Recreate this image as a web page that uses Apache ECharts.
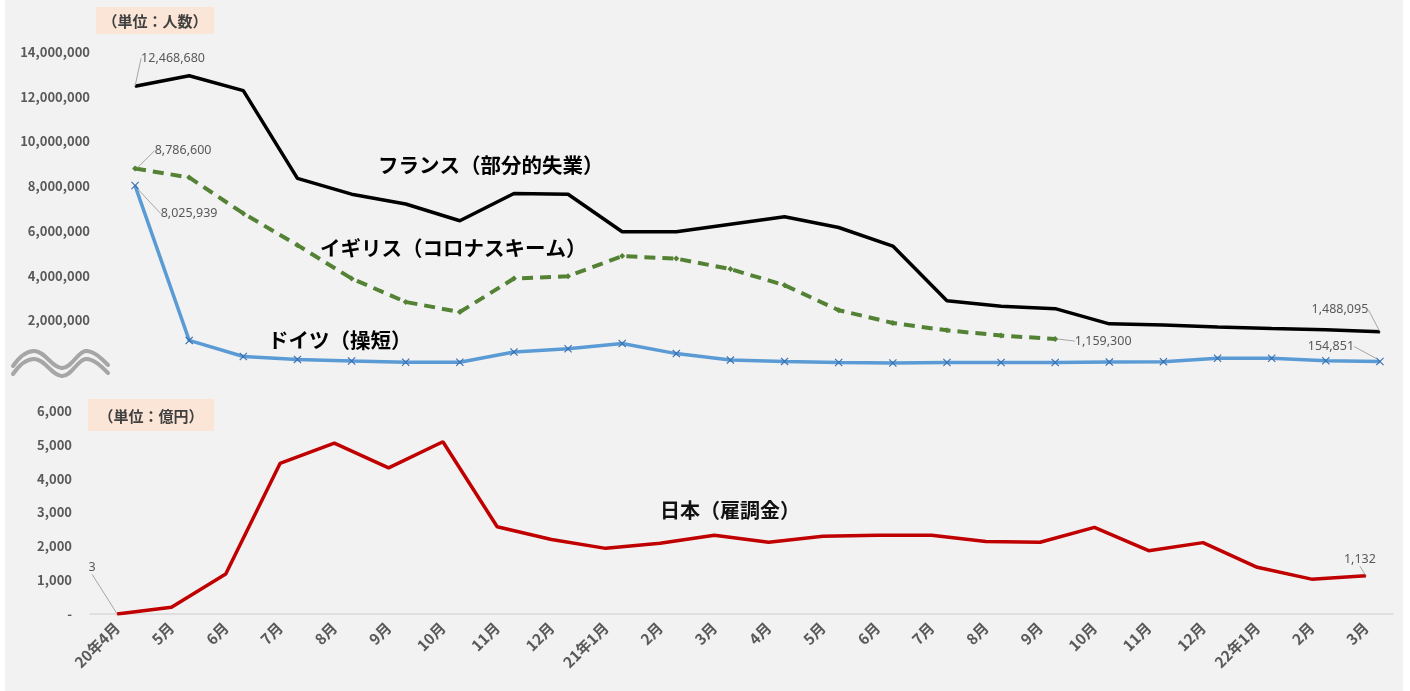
<!DOCTYPE html>
<html>
<head>
<meta charset="utf-8">
<script src="https://cdn.jsdelivr.net/npm/echarts@6/dist/echarts.min.js"></script>
<style>
  html, body { margin: 0; padding: 0; background: #fff; }
  #myChart { width: 1410px; height: 691px; }
</style>
</head>
<body>
<div id="myChart"></div>
<script>
// 月（20年4月〜22年3月）
const months = ["20年4月", "5月", "6月", "7月", "8月", "9月", "10月", "11月", "12月",
  "21年1月", "2月", "3月", "4月", "5月", "6月", "7月", "8月", "9月", "10月", "11月", "12月",
  "22年1月", "2月", "3月"];

// 上段（単位：人数）
const france = [12468680, 12940000, 12270000, 8350000, 7640000, 7200000, 6450000, 7670000,
  7640000, 5960000, 5960000, 6300000, 6630000, 6150000, 5320000, 2870000, 2630000, 2520000,
  1840000, 1790000, 1700000, 1630000, 1580000, 1488095];
const uk = [8786600, 8390000, 6780000, 5360000, 3870000, 2820000, 2370000, 3870000, 3970000,
  4870000, 4760000, 4290000, 3570000, 2450000, 1880000, 1550000, 1320000, 1159300,
  null, null, null, null, null, null];
const germany = [8025939, 1100000, 380000, 250000, 180000, 120000, 120000, 580000, 730000,
  960000, 510000, 220000, 160000, 110000, 90000, 110000, 110000, 110000, 130000, 150000,
  300000, 300000, 190000, 154851];

// 下段（単位：億円）
const japan = [3, 200, 1180, 4450, 5050, 4320, 5090, 2580, 2200, 1940, 2090, 2330, 2120,
  2300, 2330, 2330, 2140, 2120, 2560, 1870, 2110, 1380, 1030, 1132];

// 目盛
const peopleTicks = { min: 0, max: 14000000, interval: 2000000 };
const yenTicks = { min: 0, max: 6000, interval: 1000 };

const FONT = '"Noto Sans CJK JP", "Noto Sans", sans-serif';
const NUMFONT = '"Noto Sans", sans-serif';
const GRAY = "#595959";

// 値ラベルを付けるデータ（系列名 -> {index: [dx, dy]}）
const labelMove = {
  "フランス": { 0: [38, -28], 23: [-40, -22] },
  "イギリス": { 0: [48, -18], 17: [48, 2] },
  "ドイツ": { 0: [54, 28], 23: [-49, -15] },
  "日本": { 0: [-25, -46], 23: [-6, -16] }
};

function withLabels(name, arr) {
  return arr.map((v, i) => {
    if (labelMove[name][i] === undefined) return v;
    return { value: v, label: { show: true } };
  });
}

function fmt(v) {
  return v === 0 ? "-" : Number(v).toLocaleString("en-US");
}

const xCross = "path://M0,1L1,0L5,4L9,0L10,1L6,5L10,9L9,10L5,6L1,10L0,9L4,5Z";

function lineSeries(name, arr, opt) {
  return Object.assign({
    name: name,
    type: "line",
    data: withLabels(name, arr),
    symbol: "circle",
    symbolSize: 1,
    connectNulls: false,
    label: {
      show: false,
      position: "inside",
      color: GRAY,
      fontSize: 12.5,
      fontFamily: NUMFONT,
      formatter: p => fmt(p.value)
    },
    labelLine: {
      show: true,
      lineStyle: { color: "#a6a6a6", width: 1 }
    },
    labelLayout: function (params) {
      const m = labelMove[name][params.dataIndex];
      if (!m) return {};
      return { dx: m[0], dy: m[1] };
    },
    animation: false
  }, opt);
}

// 波線（省略記号）を3次ベジェで
function wave(dy) {
  const segs = [
    [13, 366, 20, 356, 27, 351, 34, 351],
    [34, 351, 45, 351, 52, 368, 62, 368],
    [62, 368, 72, 368, 78, 351, 86, 351],
    [86, 351, 94, 351, 101, 358, 108, 365]
  ];
  return segs.map(s => ({
    type: "bezierCurve",
    silent: true,
    shape: { x1: s[0], y1: s[1] + dy, cpx1: s[2], cpy1: s[3] + dy, cpx2: s[4], cpy2: s[5] + dy, x2: s[6], y2: s[7] + dy },
    style: { stroke: "#a6a6a6", lineWidth: 4, fill: null, lineCap: "round" }
  }));
}

let myChart = echarts.init(document.getElementById("myChart"));

const yAxisBase = {
  type: "value",
  axisLine: { show: false },
  axisTick: { show: false },
  splitLine: { show: false },
  axisLabel: {
    color: GRAY,
    fontWeight: "bold",
    fontSize: 13,
    fontFamily: FONT,
    margin: 18
  }
};

const option = {
  backgroundColor: "#ffffff",
  grid: [
    { left: 108, right: 3, top: 52, height: 313 },
    { left: 90, right: 17, top: 411, height: 203 }
  ],
  xAxis: [
    {
      type: "category",
      gridIndex: 0,
      data: months,
      boundaryGap: true,
      show: false
    },
    {
      type: "category",
      gridIndex: 1,
      data: months,
      boundaryGap: true,
      axisLine: { lineStyle: { color: "#d9d9d9", width: 1.5 } },
      axisTick: { show: false },
      axisLabel: {
        interval: 0,
        rotate: 45,
        margin: 11,
        color: GRAY,
        fontWeight: "bold",
        fontSize: 15,
        fontFamily: FONT
      }
    }
  ],
  yAxis: [
    Object.assign({}, yAxisBase, {
      gridIndex: 0,
      min: peopleTicks.min,
      max: peopleTicks.max,
      interval: peopleTicks.interval,
      axisLabel: Object.assign({}, yAxisBase.axisLabel, {
        formatter: v => (v === 0 ? "" : fmt(v))
      })
    }),
    Object.assign({}, yAxisBase, {
      gridIndex: 1,
      min: yenTicks.min,
      max: yenTicks.max,
      interval: yenTicks.interval,
      axisLabel: Object.assign({}, yAxisBase.axisLabel, { formatter: fmt })
    })
  ],
  series: [
    lineSeries("フランス", france, {
      xAxisIndex: 0, yAxisIndex: 0,
      lineStyle: { color: "#000000", width: 3.5 },
      itemStyle: { color: "#000000" }
    }),
    lineSeries("イギリス", uk, {
      xAxisIndex: 0, yAxisIndex: 0,
      symbol: "diamond",
      symbolSize: 6,
      lineStyle: { color: "#548235", width: 4, type: [11, 7] },
      itemStyle: { color: "#548235" }
    }),
    lineSeries("ドイツ", germany, {
      xAxisIndex: 0, yAxisIndex: 0,
      symbol: xCross,
      symbolSize: 8,
      lineStyle: { color: "#5b9bd5", width: 3.5 },
      itemStyle: { color: "#3a70b0" }
    }),
    lineSeries("日本", japan, {
      xAxisIndex: 1, yAxisIndex: 1,
      lineStyle: { color: "#c00000", width: 3.5 },
      itemStyle: { color: "#c00000" }
    })
  ],
  graphic: [
    // 背景パネル
    { type: "rect", z: -10, silent: true, shape: { x: 5, y: 0, width: 1398, height: 691 }, style: { fill: "#f2f2f2" } },
    // 単位ボックス
    { type: "rect", shape: { x: 96, y: 7, width: 118, height: 27 }, style: { fill: "#fbe5d6" } },
    { type: "text", x: 155, y: 21, style: { text: "（単位：人数）", font: "bold 15px " + FONT, fill: "#404040", textAlign: "center", textVerticalAlign: "middle" } },
    { type: "rect", shape: { x: 88, y: 399, width: 126, height: 32 }, style: { fill: "#fbe5d6" } },
    { type: "text", x: 151, y: 416, style: { text: "（単位：億円）", font: "bold 15px " + FONT, fill: "#404040", textAlign: "center", textVerticalAlign: "middle" } },
    // 系列名
    { type: "text", x: 378, y: 165, style: { text: "フランス（部分的失業）", font: "bold 20.5px " + FONT, fill: "#000", textVerticalAlign: "middle" } },
    { type: "text", x: 320, y: 248, style: { text: "イギリス（コロナスキーム）", font: "bold 20.5px " + FONT, fill: "#000", textVerticalAlign: "middle" } },
    { type: "text", x: 268, y: 340, style: { text: "ドイツ（操短）", font: "bold 20.5px " + FONT, fill: "#000", textVerticalAlign: "middle" } },
    { type: "text", x: 660, y: 510, style: { text: "日本（雇調金）", font: "bold 20px " + FONT, fill: "#111", textVerticalAlign: "middle" } }
  ].concat(wave(0), wave(8))
};

myChart.setOption(option, true);
</script>
</body>
</html>
